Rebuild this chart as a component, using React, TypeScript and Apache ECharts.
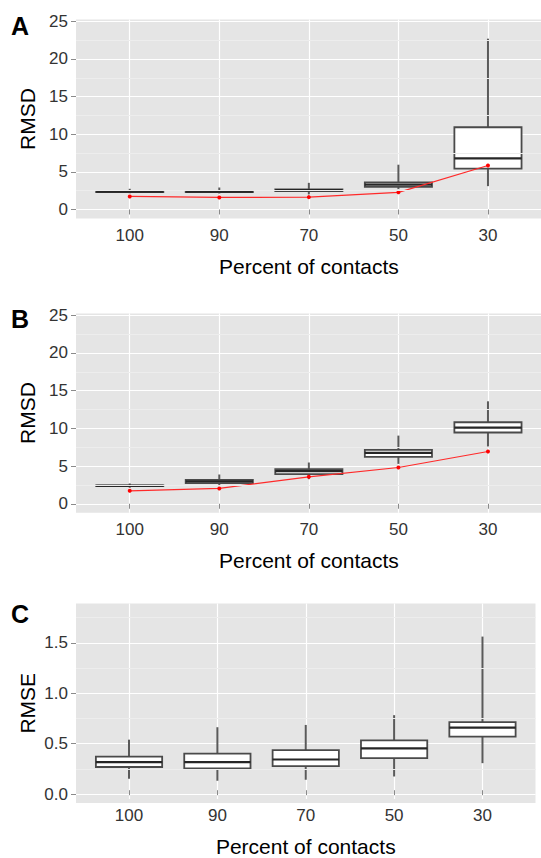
import React, { useEffect, useRef } from "react";
import * as echarts from "echarts";

// ---------- data ----------
const categories = ["100", "90", "70", "50", "30"];

// each box: [lower whisker, Q1, median, Q3, upper whisker]
const boxesA = [
  [2.15, 2.32, 2.38, 2.45, 2.75],
  [2.12, 2.32, 2.38, 2.45, 2.92],
  [2.0, 2.45, 2.57, 2.68, 3.54],
  [2.7, 3.0, 3.3, 3.6, 5.95],
  [3.1, 5.44, 6.8, 10.93, 22.7],
];
const lineA = [1.73, 1.6, 1.64, 2.28, 5.84];

const boxesB = [
  [2.12, 2.33, 2.38, 2.45, 2.69],
  [2.47, 2.73, 2.96, 3.18, 3.88],
  [3.26, 3.93, 4.32, 4.59, 5.47],
  [5.29, 6.22, 6.75, 7.15, 9.04],
  [7.6, 9.45, 10.1, 10.81, 13.59],
];
const lineB = [1.72, 2.03, 3.57, 4.81, 6.93];

const boxesC = [
  [0.116, 0.235, 0.284, 0.34, 0.512],
  [0.096, 0.221, 0.284, 0.37, 0.638],
  [0.106, 0.244, 0.311, 0.406, 0.661],
  [0.139, 0.324, 0.423, 0.505, 0.76],
  [0.274, 0.542, 0.634, 0.69, 1.556],
];

const ticksRMSD = [0, 5, 10, 15, 20, 25];
const ticksRMSE = [0, 0.5, 1.0, 1.5];

const xTitle = "Percent of contacts";

// ---------- panel definitions ----------
const panelDefs = [
  { letter: "A", yTitle: "RMSD", boxes: boxesA, line: lineA as number[] | null, ticks: ticksRMSD, decimals: 0, yMin: -1.2, yMax: 25.25 },
  { letter: "B", yTitle: "RMSD", boxes: boxesB, line: lineB as number[] | null, ticks: ticksRMSD, decimals: 0, yMin: -1.2, yMax: 25.25 },
  { letter: "C", yTitle: "RMSE", boxes: boxesC, line: null as number[] | null, ticks: ticksRMSE, decimals: 1, yMin: -0.089, yMax: 1.891 },
];

// layout (pixels)
const layout = [
  { left: 76, rightEdge: 541.7, top: 19.5, height: 199, letterY: 26 },
  { left: 76, rightEdge: 541.7, top: 313.4, height: 199.4, letterY: 319 },
  { left: 76, rightEdge: 535.5, top: 603.5, height: 199.5, letterY: 614 },
];

const FONT = "'Liberation Sans', Arial, Helvetica, sans-serif";
const BG = "#E5E5E5";
const MINOR = "#EDEDED";
const TICK_TEXT = "#333333";
const TICK_LINE = "#8a8a8a";

function buildOption() {
  const grid: any[] = [];
  const xAxis: any[] = [];
  const yAxis: any[] = [];
  const series: any[] = [];
  const graphic: any[] = [];

  panelDefs.forEach((p, k) => {
    const L = layout[k];
    const width = L.rightEdge - L.left;
    const n = categories.length;
    const span = n - 1 + 1.2; // ggplot discrete expansion 0.6 each side
    const cx0 = L.left + (0.6 / span) * width;
    const cxN = L.left + ((n - 1 + 0.6) / span) * width;
    const yPix = (v: number) => L.top + ((p.yMax - v) / (p.yMax - p.yMin)) * L.height;
    const tMin = p.ticks[0];
    const tMax = p.ticks[p.ticks.length - 1];
    const tStep = p.ticks[1] - p.ticks[0];

    const gBg = grid.length;
    grid.push({ left: L.left, top: L.top, width, height: L.height, show: true, backgroundColor: BG, borderWidth: 0, z: 0 });
    const gH = grid.length;
    grid.push({ left: L.left, top: yPix(tMax), width, height: yPix(tMin) - yPix(tMax), z: 0 });
    const gV = grid.length;
    grid.push({ left: cx0, top: L.top, width: cxN - cx0, height: L.height, z: 0 });

    // background grid axes (y title lives here)
    const xBg = xAxis.length;
    xAxis.push({ type: "value", gridIndex: gBg, min: 0, max: 1, show: false });
    const yBg = yAxis.length;
    yAxis.push({
      type: "value", gridIndex: gBg, min: p.yMin, max: p.yMax, z: 1,
      axisLine: { show: false }, axisTick: { show: false }, axisLabel: { show: false }, splitLine: { show: false },
      name: p.yTitle, nameLocation: "middle", nameGap: 38,
      nameTextStyle: { fontFamily: FONT, fontSize: 21, color: "#000" },
    });

    // horizontal gridlines + y ticks
    xAxis.push({ type: "value", gridIndex: gH, min: 0, max: 1, show: false });
    yAxis.push({
      type: "value", gridIndex: gH, min: tMin, max: tMax, interval: tStep, z: 1,
      axisLine: { show: false },
      axisTick: { show: true, length: 5, lineStyle: { color: TICK_LINE, width: 1 } },
      axisLabel: {
        margin: 8, fontFamily: FONT, fontSize: 17, color: TICK_TEXT,
        formatter: (v: number) => v.toFixed(p.decimals),
      },
      splitLine: { show: true, lineStyle: { color: "#FFFFFF", width: 1.2 } },
    });

    // vertical gridlines + categories + data
    const xV = xAxis.length;
    xAxis.push({
      type: "value", gridIndex: gV, min: 0, max: n - 1, interval: 1, z: 1,
      axisLine: { show: false },
      axisTick: { show: true, length: 5, lineStyle: { color: TICK_LINE, width: 1 } },
      axisLabel: {
        margin: 8, fontFamily: FONT, fontSize: 17, color: TICK_TEXT,
        formatter: (v: number) => categories[Math.round(v)] ?? "",
      },
      splitLine: { show: true, lineStyle: { color: "#FFFFFF", width: 1.2 } },
      name: xTitle, nameLocation: "middle", nameGap: 37,
      nameTextStyle: { fontFamily: FONT, fontSize: 21, color: "#000" },
    });
    const yV = yAxis.length;
    yAxis.push({ type: "value", gridIndex: gV, min: p.yMin, max: p.yMax, show: false });

    // minor gridlines (midpoints between breaks, within the panel range)
    const minors: number[] = [];
    for (let i = 0; i < p.ticks.length - 1; i++) minors.push((p.ticks[i] + p.ticks[i + 1]) / 2);
    if (tMax + tStep / 2 < p.yMax) minors.push(tMax + tStep / 2);
    if (tMin - tStep / 2 > p.yMin) minors.push(tMin - tStep / 2);
    series.push({
      type: "line", xAxisIndex: xBg, yAxisIndex: yBg, data: [], z: 1, silent: true,
      markLine: {
        silent: true, symbol: ["none", "none"], animation: false,
        label: { show: false },
        lineStyle: { color: MINOR, width: 1, type: "solid" },
        data: minors.map((v) => ({ yAxis: v })),
      },
    });

    // boxplots
    series.push({
      type: "custom", xAxisIndex: xV, yAxisIndex: yV, z: 3, clip: false,
      encode: { x: 0, y: [1, 2, 3, 4, 5] },
      data: p.boxes.map((b, i) => [i, ...b]),
      renderItem: (params: any, api: any) => {
        const x = api.value(0);
        const lo = api.coord([x, api.value(1)]);
        const q1 = api.coord([x, api.value(2)]);
        const med = api.coord([x, api.value(3)]);
        const q3 = api.coord([x, api.value(4)]);
        const hi = api.coord([x, api.value(5)]);
        const w = api.size([0.75, 0])[0];
        const wx = med[0];
        const wStyle = { stroke: "#5a5a5a", lineWidth: 2 };
        return {
          type: "group",
          children: [
            { type: "line", shape: { x1: wx, y1: hi[1], x2: wx, y2: q3[1] }, style: wStyle },
            { type: "line", shape: { x1: wx, y1: q1[1], x2: wx, y2: lo[1] }, style: wStyle },
            {
              type: "rect",
              shape: { x: med[0] - w / 2, y: q3[1], width: w, height: Math.max(q1[1] - q3[1], 0.5) },
              style: { fill: "#FFFFFF", stroke: "#4a4a4a", lineWidth: 1.8 },
            },
            {
              type: "line",
              shape: { x1: med[0] - w / 2, y1: med[1], x2: med[0] + w / 2, y2: med[1] },
              style: { stroke: "#262626", lineWidth: 2.2 },
            },
          ],
        };
      },
    });

    if (p.line) {
      series.push({
        type: "line", xAxisIndex: xV, yAxisIndex: yV, z: 4,
        data: p.line.map((v, i) => [i, v]),
        symbol: "circle", symbolSize: 4, showSymbol: true,
        lineStyle: { color: "#FF2A2A", width: 1.2 },
        itemStyle: { color: "#FF0000" },
        silent: true,
      });
    }

    graphic.push({
      type: "text", left: 11, top: L.letterY - 13,
      style: { text: p.letter, fontFamily: FONT, fontSize: 25, fontWeight: "bold", fill: "#000" },
    });
  });

  return { animation: false, backgroundColor: "#FFFFFF", grid, xAxis, yAxis, series, graphic };
}

export default function App() {
  const ref = useRef<HTMLDivElement | null>(null);
  useEffect(() => {
    if (!ref.current) return;
    const chart = echarts.init(ref.current, undefined, { renderer: "svg" });
    chart.setOption(buildOption() as any);
    return () => chart.dispose();
  }, []);
  return (
    <div
      ref={ref}
      style={{ position: "fixed", left: 0, top: 0, width: 541, height: 858, background: "#fff" }}
    />
  );
}
